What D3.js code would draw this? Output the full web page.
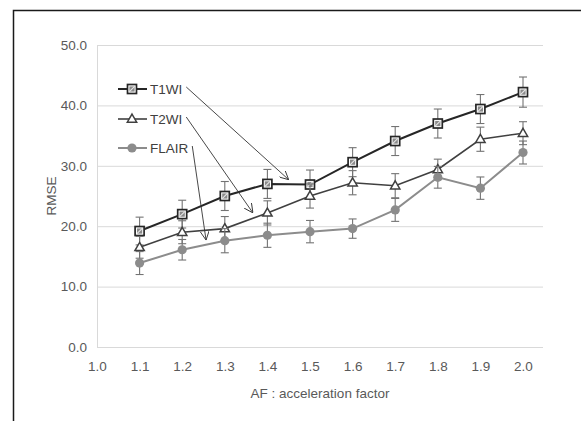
<!DOCTYPE html>
<html>
<head>
<meta charset="utf-8">
<script src="https://cdn.jsdelivr.net/npm/d3@7"></script>
<style>
  body { margin: 0; background: #fff; }
  text { font-family: "Liberation Sans Narrow", "Liberation Sans", Arial, sans-serif; }
</style>
</head>
<body>
<svg id="chart"></svg>
<script>
/* RMSE vs acceleration factor */

//* Data *//
var af = [1.1, 1.2, 1.3, 1.4, 1.5, 1.6, 1.7, 1.8, 1.9, 2.0];
var xTicks = [1.0, 1.1, 1.2, 1.3, 1.4, 1.5, 1.6, 1.7, 1.8, 1.9, 2.0];
var yTicks = [0, 10, 20, 30, 40, 50];

var t1wi    = [19.2, 22.0, 25.0, 27.0, 26.9, 30.6, 34.1, 37.0, 39.4, 42.2];
var t1wiErr = [2.3, 2.3, 2.4, 2.4, 2.4, 2.4, 2.4, 2.4, 2.4, 2.5];
var t2wi    = [16.5, 19.0, 19.6, 22.2, 25.0, 27.2, 26.7, 29.4, 34.4, 35.4];
var t2wiErr = [1.8, 1.9, 2.0, 2.0, 2.0, 2.0, 2.0, 1.7, 2.0, 1.9];
var flair    = [13.9, 16.1, 17.6, 18.5, 19.1, 19.6, 22.7, 28.1, 26.3, 32.2];
var flairErr = [1.9, 1.7, 2.0, 2.0, 1.85, 1.6, 1.9, 1.8, 1.85, 1.9];

var seriesNames = ["T1WI", "T2WI", "FLAIR"];
// where each legend arrow points to (in data units)
var arrowTargets = [[1.45, 27.7], [1.366, 22.2], [1.256, 17.7]];

//* Chart setup *//
var width = 581, height = 421;
var svg = d3.select("#chart").attr("width", width).attr("height", height);

svg.append("rect").attr("width", width).attr("height", height).attr("fill", "#fff");
// outer frame (cropped at right / bottom)
svg.append("rect")
    .attr("x", 13.5).attr("y", 10.5)
    .attr("width", 700).attr("height", 600)
    .attr("fill", "none").attr("stroke", "#1a1a1a").attr("stroke-width", 1.5);

var plot = {left: 97, right: 543, top: 45, bottom: 347};

var x = d3.scaleLinear().domain([1.0, 2.0]).range([plot.left, 523]);
var y = d3.scaleLinear().domain([0, 50]).range([plot.bottom, plot.top]);

// gridlines
svg.append("g").selectAll("line")
    .data(yTicks)
    .enter().append("line")
    .attr("x1", plot.left).attr("x2", plot.right)
    .attr("y1", function(d){ return y(d) + 0.5; })
    .attr("y2", function(d){ return y(d) + 0.5; })
    .attr("stroke", "#d9d9d9").attr("stroke-width", 1);

svg.append("line")
    .attr("x1", plot.left + 0.5).attr("x2", plot.left + 0.5)
    .attr("y1", plot.top).attr("y2", plot.bottom)
    .attr("stroke", "#d9d9d9");

// axes
var yAxis = svg.append("g")
    .attr("transform", "translate(" + 87 + ",0)")
    .call(d3.axisLeft(y).tickValues(yTicks).tickSize(0).tickPadding(0)
        .tickFormat(d3.format(".1f")));
var xAxis = svg.append("g")
    .attr("transform", "translate(0," + 361 + ")")
    .call(d3.axisBottom(x).tickValues(xTicks).tickSize(0).tickPadding(0)
        .tickFormat(d3.format(".1f")));

[xAxis, yAxis].forEach(function(a){
    a.select(".domain").remove();
    a.selectAll("text").attr("fill", "#595959").style("font-size", "13.5px")
        .style("font-family", null);
});

svg.append("text")
    .attr("transform", "translate(56," + ((plot.top + plot.bottom) / 2) + ") rotate(-90)")
    .attr("text-anchor", "middle")
    .attr("fill", "#595959").attr("font-size", "13.5px")
    .text("RMSE");

svg.append("text")
    .attr("x", (plot.left + plot.right) / 2).attr("y", 398)
    .attr("text-anchor", "middle")
    .attr("fill", "#595959").attr("font-size", "13.5px")
    .text("AF : acceleration factor");

//* Series *//
var series = [
    {name: "T1WI", values: t1wi, err: t1wiErr, color: "#262626", width: 2, marker: "square"},
    {name: "T2WI", values: t2wi, err: t2wiErr, color: "#404040", width: 1.6, marker: "triangle"},
    {name: "FLAIR", values: flair, err: flairErr, color: "#8c8c8c", width: 2, marker: "circle"}
];

var line = d3.line()
    .x(function(d){ return x(d.x); })
    .y(function(d){ return y(d.y); });

function drawMarker(g, type, color) {
    if (type == "square") {
        g.append("rect")
            .attr("x", -4.5).attr("y", -4.5).attr("width", 9).attr("height", 9)
            .attr("fill", "#fff").attr("stroke", color).attr("stroke-width", 1.7);
        g.append("rect")
            .attr("x", -2.6).attr("y", -2.6).attr("width", 5.2).attr("height", 5.2)
            .attr("fill", "#8a8a8a");
        g.append("line")
            .attr("x1", -2.6).attr("y1", 2.6).attr("x2", 2.6).attr("y2", -2.6)
            .attr("stroke", "#e6e6e6").attr("stroke-width", 1.1);
    } else if (type == "triangle") {
        g.append("path")
            .attr("d", d3.symbol().type(d3.symbolTriangle).size(38)())
            .attr("transform", "translate(0,0.5)")
            .attr("fill", "#fff").attr("stroke", color).attr("stroke-width", 1.5);
    } else {
        g.append("circle").attr("r", 4.6).attr("fill", color);
    }
}

series.forEach(function(s){
    var pts = af.map(function(a, i){ return {x: a, y: s.values[i], e: s.err[i]}; });
    var g = svg.append("g").attr("class", "series");

    // error bars
    var eb = g.append("g").selectAll("g")
        .data(pts)
        .enter().append("g")
        .attr("stroke", "#737373").attr("stroke-width", 1.1);
    eb.append("line")
        .attr("x1", function(d){ return x(d.x); })
        .attr("x2", function(d){ return x(d.x); })
        .attr("y1", function(d){ return y(d.y - d.e); })
        .attr("y2", function(d){ return y(d.y + d.e); });
    eb.append("line")
        .attr("x1", function(d){ return x(d.x) - 4; })
        .attr("x2", function(d){ return x(d.x) + 4; })
        .attr("y1", function(d){ return y(d.y + d.e); })
        .attr("y2", function(d){ return y(d.y + d.e); });
    eb.append("line")
        .attr("x1", function(d){ return x(d.x) - 4; })
        .attr("x2", function(d){ return x(d.x) + 4; })
        .attr("y1", function(d){ return y(d.y - d.e); })
        .attr("y2", function(d){ return y(d.y - d.e); });

    g.append("path")
        .datum(pts)
        .attr("d", line)
        .attr("fill", "none")
        .attr("stroke", s.color)
        .attr("stroke-width", s.width);

    g.selectAll(".mk")
        .data(pts)
        .enter().append("g")
        .attr("class", "mk")
        .attr("transform", function(d){ return "translate(" + x(d.x) + "," + y(d.y) + ")"; })
        .each(function(){ drawMarker(d3.select(this), s.marker, s.color); });
});

//* Legend with arrows *//
var legendY = [89, 119, 148];
var legend = svg.append("g");

svg.append("defs").append("marker")
    .attr("id", "arrow")
    .attr("viewBox", "0 0 10 10")
    .attr("refX", 10).attr("refY", 5)
    .attr("markerWidth", 9).attr("markerHeight", 9)
    .attr("markerUnits", "userSpaceOnUse")
    .attr("orient", "auto")
    .append("path")
    .attr("d", "M0,0 L10,5 L0,10")
    .attr("fill", "none").attr("stroke", "#333").attr("stroke-width", 1);

series.forEach(function(s, i){
    var row = legend.append("g").attr("transform", "translate(0," + legendY[i] + ")");
    row.append("line")
        .attr("x1", 118).attr("x2", 147)
        .attr("stroke", s.color).attr("stroke-width", s.width);
    drawMarker(row.append("g").attr("transform", "translate(132,0)"), s.marker, s.color);
    var label = row.append("text")
        .attr("x", 150).attr("y", 5)
        .attr("fill", "#404040").attr("font-size", "13.5px")
        .text(s.name);

    var tw = label.node().getComputedTextLength();
    svg.append("line")
        .attr("x1", 150 + tw + 4).attr("y1", legendY[i] - 2)
        .attr("x2", x(arrowTargets[i][0])).attr("y2", y(arrowTargets[i][1]))
        .attr("stroke", "#333").attr("stroke-width", 0.9)
        .attr("marker-end", "url(#arrow)");
});
</script>
</body>
</html>
